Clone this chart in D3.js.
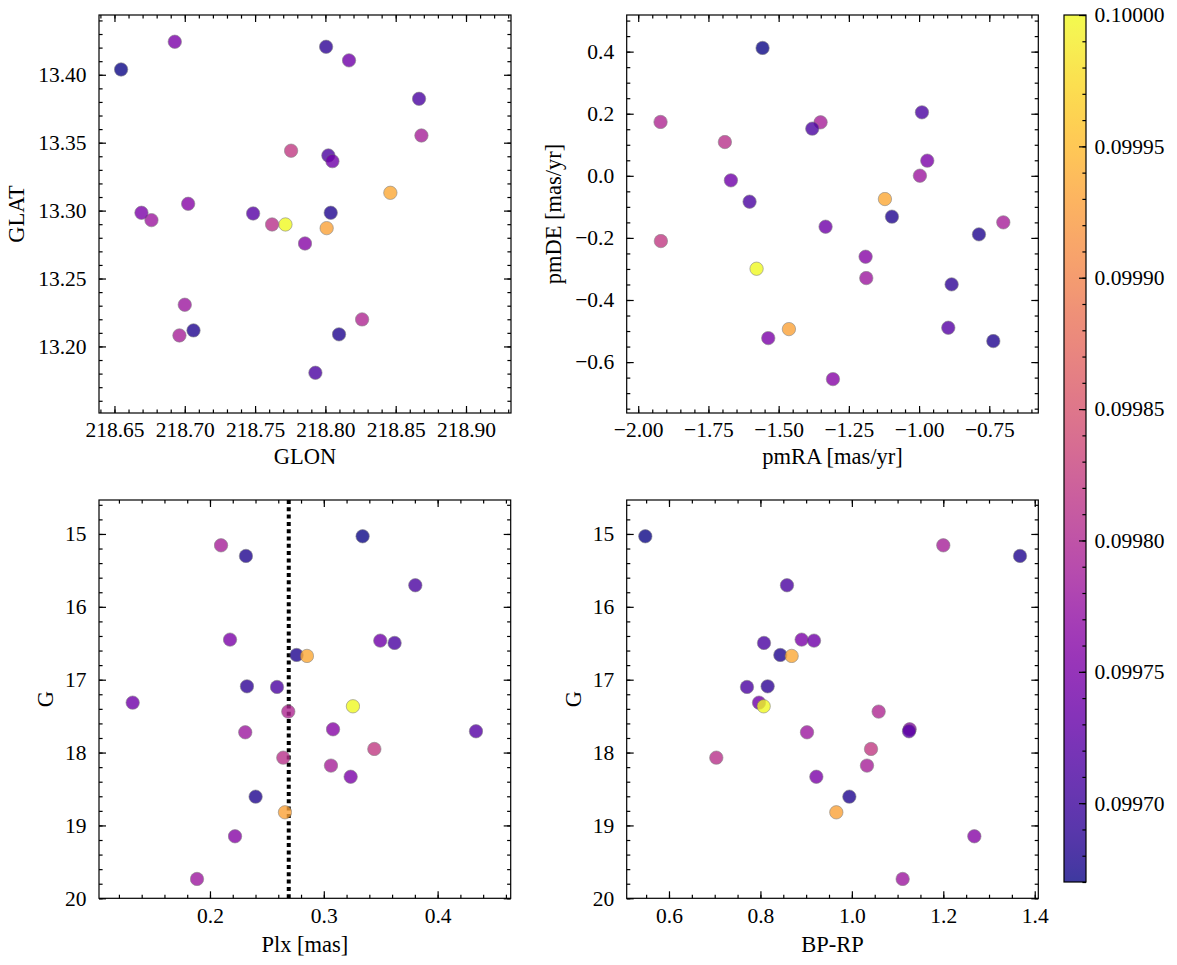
<!DOCTYPE html>
<html><head><meta charset="utf-8">
<script src="https://cdn.jsdelivr.net/npm/d3@7"></script>
<style>
body{margin:0;background:#fff}
</style>
</head><body>
<svg id="c" width="1177" height="965" font-family="'Liberation Serif', 'DejaVu Serif', serif"></svg>
<script>
// ---- data (one entry per star) ----
const gmag = [15.032,15.156,15.302,15.704,16.450,16.464,16.496,16.661,16.674,17.091,17.100,17.315,17.365,17.438,17.681,17.708,17.722,17.951,18.070,18.179,18.332,18.605,18.820,19.149,19.735];
const plx  = [0.3341,0.2097,0.2316,0.3804,0.2176,0.3496,0.3622,0.2761,0.2852,0.2325,0.2589,0.1321,0.3256,0.2688,0.3081,0.4337,0.2310,0.3444,0.2644,0.3063,0.3236,0.2401,0.2659,0.2220,0.1886];
const bprp = [0.5482,1.2000,1.3678,0.8581,0.8902,0.9172,0.8078,0.8435,0.8683,0.8158,0.7706,0.7969,0.8071,1.0586,1.1264,1.1250,0.9019,1.0419,0.7035,1.0331,0.9223,0.9945,0.9660,1.2679,1.1111];
const glon = [218.6547,218.8683,218.7062,218.8666,218.6929,218.8168,218.8021,218.8097,218.8462,218.8005,218.7929,218.8050,218.7716,218.8261,218.7855,218.7486,218.6763,218.7756,218.7621,218.6962,218.6692,218.8038,218.8009,218.7024,218.7000];
const glat = [13.4039,13.3553,13.2118,13.3823,13.4243,13.4106,13.3406,13.2089,13.3131,13.4206,13.1806,13.3364,13.2898,13.2199,13.2758,13.2979,13.2930,13.3441,13.2898,13.2081,13.2984,13.2984,13.2871,13.3050,13.2307];
const pmra = [-1.5572,-1.3507,-1.0966,-0.9898,-0.9708,-1.6700,-1.3803,-0.7868,-1.1216,-0.8841,-1.6035,-1.3329,-1.5786,-1.9205,-1.1904,-0.8960,-1.1880,-1.9193,-1.6914,-0.7001,-1.5370,-0.7357,-1.4634,-1.3067,-0.9970];
const pmde = [0.4118,0.1723,-0.1316,0.2045,0.0488,-0.0146,0.1519,-0.1886,-0.0747,-0.3497,-0.0833,-0.1639,-0.2993,0.1734,-0.2606,-0.4894,-0.3293,-0.2101,0.1089,-0.1499,-0.5227,-0.5323,-0.4937,-0.6548,0.0004];
const prob = [0.09967,0.09979,0.09968,0.09971,0.09975,0.09974,0.09971,0.09968,0.099935,0.09969,0.09971,0.09974,0.10000,0.09980,0.09976,0.09972,0.09978,0.09982,0.09981,0.09979,0.09975,0.09968,0.09993,0.09976,0.09978];
const probRange = [0.09967, 0.10000];
const plxLine = 0.2692;

// ---- tick labels ----
const glonTicks = [218.65,218.70,218.75,218.80,218.85,218.90];
const glatTicks = [13.20,13.25,13.30,13.35,13.40];
const pmraTicks = [-2.00,-1.75,-1.50,-1.25,-1.00,-0.75];
const pmdeTicks = [-0.6,-0.4,-0.2,0.0,0.2,0.4];
const plxTicks  = [0.2,0.3,0.4];
const gTicks    = [15,16,17,18,19,20];
const bprpTicks = [0.6,0.8,1.0,1.2,1.4];
const cbTicks   = [0.09970,0.09975,0.09980,0.09985,0.09990,0.09995,0.10000];

const FONT = "'Liberation Serif', 'DejaVu Serif', serif";
const svg = d3.select("#c");
const color = d3.scaleSequential(d3.interpolatePlasma).domain(probRange);
const MAJ = 7, MIN = 3.6, SW = 1.2;

function minorTicks(dom, step){
  const lo = Math.min(...dom), hi = Math.max(...dom);
  const out = [];
  for (let k = Math.ceil(lo/step - 1e-9); k*step <= hi + 1e-12; k++) out.push(+(k*step).toFixed(8));
  return out;
}
const style = s => {
  s.attr("font-family", FONT).attr("font-size", 21.5);
  s.select(".domain").remove();
  s.selectAll("line").attr("stroke","#000").attr("stroke-width",SW);
  s.selectAll("text").style("font-family", FONT).attr("font-size",21.5).attr("fill","#000");
};

function panel(o){
  const w = o.x1 - o.x0, h = o.y1 - o.y0;
  const g = svg.append("g").attr("transform", `translate(${o.x0},${o.y0})`);
  const x = d3.scaleLinear().domain(o.xd).range([0, w]);
  const y = d3.scaleLinear().domain(o.yd).range([h, 0]);
  const xmin = minorTicks(o.xd, o.xm), ymin = minorTicks(o.yd, o.ym);
  const fx = d3.format(o.xf), fy = d3.format(o.yf);
  g.append("g").attr("transform",`translate(0,${h})`).call(d3.axisBottom(x).tickValues(o.xt).tickFormat(fx).tickSize(-MAJ).tickPadding(9)).call(style);
  g.append("g").attr("transform",`translate(0,${h})`).call(d3.axisBottom(x).tickValues(xmin).tickFormat("").tickSize(-MIN)).call(style);
  g.append("g").call(d3.axisTop(x).tickValues(o.xt).tickFormat("").tickSize(-MAJ)).call(style);
  g.append("g").call(d3.axisTop(x).tickValues(xmin).tickFormat("").tickSize(-MIN)).call(style);
  g.append("g").call(d3.axisLeft(y).tickValues(o.yt).tickFormat(fy).tickSize(-MAJ).tickPadding(12.5)).call(style);
  g.append("g").call(d3.axisLeft(y).tickValues(ymin).tickFormat("").tickSize(-MIN)).call(style);
  g.append("g").attr("transform",`translate(${w},0)`).call(d3.axisRight(y).tickValues(o.yt).tickFormat("").tickSize(-MAJ)).call(style);
  g.append("g").attr("transform",`translate(${w},0)`).call(d3.axisRight(y).tickValues(ymin).tickFormat("").tickSize(-MIN)).call(style);

  const clip = "clip" + o.id;
  g.append("clipPath").attr("id", clip).append("rect").attr("width", w).attr("height", h);
  const pg = g.append("g").attr("clip-path", `url(#${clip})`);
  if (o.vline !== undefined) {
    pg.append("line").attr("x1", x(o.vline)).attr("x2", x(o.vline)).attr("y1", 0).attr("y2", h)
      .attr("stroke","#000").attr("stroke-width",4).attr("stroke-dasharray","4,3.3");
  }
  pg.selectAll("circle").data(d3.range(o.xs.length)).join("circle")
    .attr("cx", i => x(o.xs[i])).attr("cy", i => y(o.ys[i])).attr("r", 6.7)
    .attr("fill", i => color(prob[i])).attr("stroke", "#6a6a6a").attr("stroke-width", 0.6)
    .attr("opacity", 0.8);

  g.append("rect").attr("width", w).attr("height", h).attr("fill","none").attr("stroke","#000").attr("stroke-width",SW);
  svg.append("text").attr("x", (o.x0+o.x1)/2).attr("y", o.xly).attr("text-anchor","middle")
    .style("font-family", FONT).attr("font-size",22.5).text(o.xl);
  svg.append("text").attr("transform", `translate(${o.ylx},${(o.y0+o.y1)/2}) rotate(-90)`).attr("text-anchor","middle")
    .attr("dy","0.35em").style("font-family", FONT).attr("font-size",22.5).text(o.yl);
}

panel({id:1, x0:99, x1:511, y0:15, y1:413, xd:[218.639,218.932], yd:[13.151,13.444],
  xt:glonTicks, yt:glatTicks, xm:0.01, ym:0.01, xf:".2f", yf:".2f",
  xs:glon, ys:glat, xl:"GLON", yl:"GLAT", xly:464, ylx:16});
panel({id:2, x0:626.7, x1:1038.3, y0:15, y1:413, xd:[-2.041,-0.5755], yd:[-0.764,0.518],
  xt:pmraTicks, yt:pmdeTicks, xm:0.05, ym:0.05, xf:".2f", yf:".1f",
  xs:pmra, ys:pmde, xl:"pmRA [mas/yr]", yl:"pmDE [mas/yr]", xly:464, ylx:553});
panel({id:3, x0:99, x1:510.7, y0:500, y1:898.3, xd:[0.1025,0.4642], yd:[20,14.534],
  xt:plxTicks, yt:gTicks, xm:0.02, ym:0.2, xf:".1f", yf:"d",
  xs:plx, ys:gmag, xl:"Plx [mas]", yl:"G", xly:952, ylx:45, vline:plxLine});
panel({id:4, x0:626.7, x1:1038.3, y0:500, y1:898.3, xd:[0.5075,1.4078], yd:[20,14.534],
  xt:bprpTicks, yt:gTicks, xm:0.05, ym:0.2, xf:".1f", yf:"d",
  xs:bprp, ys:gmag, xl:"BP-RP", yl:"G", xly:952, ylx:573});

// ---- colorbar ----
const cb = {x0:1064, x1:1086, y0:15, y1:882};
const cbw = cb.x1-cb.x0, cbh = cb.y1-cb.y0;
const cg = svg.append("g").attr("transform", `translate(${cb.x0},${cb.y0})`);
const grad = svg.append("defs").append("linearGradient").attr("id","cbgrad").attr("x1",0).attr("y1",1).attr("x2",0).attr("y2",0);
d3.range(0, 1.0001, 0.02).forEach(t => grad.append("stop").attr("offset", t).attr("stop-color", d3.interpolatePlasma(t)));
cg.append("rect").attr("width", cbw).attr("height", cbh).attr("fill","url(#cbgrad)").attr("opacity",0.8);
const cy = d3.scaleLinear().domain(probRange).range([cbh, 0]);
cg.append("g").attr("transform",`translate(${cbw},0)`).call(d3.axisRight(cy).tickValues(cbTicks).tickFormat(d3.format(".5f")).tickSize(-MAJ).tickPadding(8.5)).call(style);
cg.append("g").attr("transform",`translate(${cbw},0)`).call(d3.axisRight(cy).tickValues(minorTicks(probRange,0.00001)).tickFormat("").tickSize(-MIN)).call(style);
cg.append("rect").attr("width", cbw).attr("height", cbh).attr("fill","none").attr("stroke","#000").attr("stroke-width",SW);
</script>
</body></html>
